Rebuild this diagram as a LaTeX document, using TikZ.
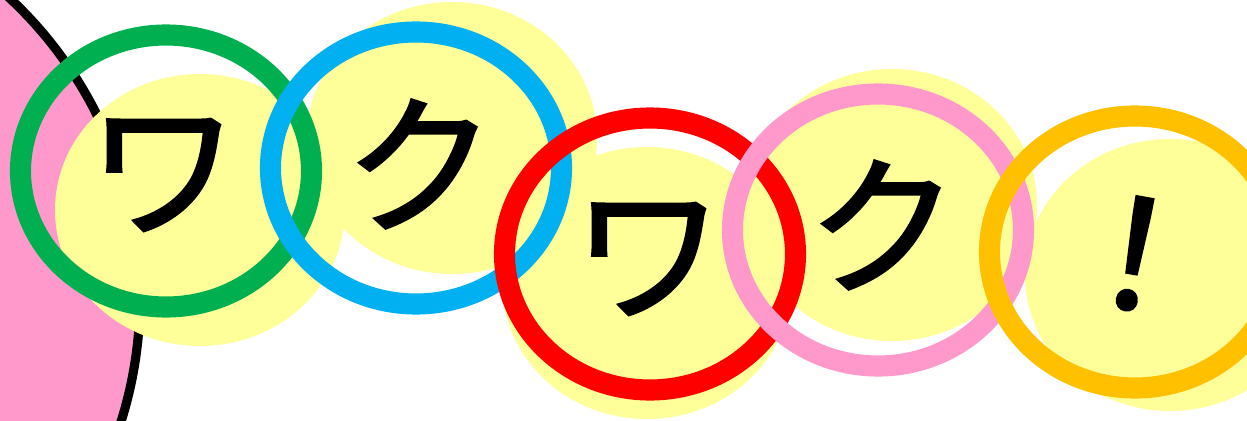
\documentclass[tikz,border=0pt]{standalone}
\usepackage{fontspec}
\newfontfamily\jpfont[FakeBold=1.8]{Noto Sans CJK JP}
\definecolor{bubble}{HTML}{FFFF99}
\definecolor{blush}{HTML}{FF99CC}
\definecolor{leaf}{HTML}{00B050}
\definecolor{sky}{HTML}{00B0F0}
\definecolor{flame}{HTML}{FF0000}
\definecolor{amber}{HTML}{FFC000}

\tikzset{
 blob/.style={fill=bubble},
 ring/.style={line width=6pt},
 kana/.style={font=\jpfont\fontsize{43}{43}\selectfont, inner sep=0pt}
}

\begin{document}
\begin{tikzpicture}[x=0.01cm,y=-0.01cm]
 \useasboundingbox (0,0) rectangle (1247,421);
 \clip (0,0) rectangle (1247,421);
 \draw[line width=2.6pt,fill=blush] (-270,298) circle[radius=410];

 % yellow blobs
 \fill[blob] (200,210) ellipse[x radius=145, y radius=136];
 \fill[blob] (452,138) ellipse[x radius=145, y radius=136];
 \fill[blob] (647,283) ellipse[x radius=145, y radius=136];
 \fill[blob] (892,205) ellipse[x radius=145, y radius=136];
 \fill[blob] (1170,275) ellipse[x radius=145, y radius=136];

 % rings
 \draw[ring,leaf] (166,171) ellipse[x radius=145.5, y radius=136];
 \draw[ring,sky] (416,168) ellipse[x radius=145.5, y radius=136];
 \draw[ring,flame] (650,254) ellipse[x radius=145.5, y radius=136];
 \draw[ring,blush] (878,230) ellipse[x radius=145.5, y radius=136];
 \draw[ring,amber] (1135,252) ellipse[x radius=145.5, y radius=136];

 \node[kana] (wa1) at (163,175) {ワ};
 \node[kana] (ku1) at (420,164) {ク};
 \node[kana] (wa2) at (648,259) {ワ};
 \node[kana] (ku2) at (883,225) {ク};
 \node[kana,rotate=-10] (bang) at (1135,254) {！};
\end{tikzpicture}
\end{document}
